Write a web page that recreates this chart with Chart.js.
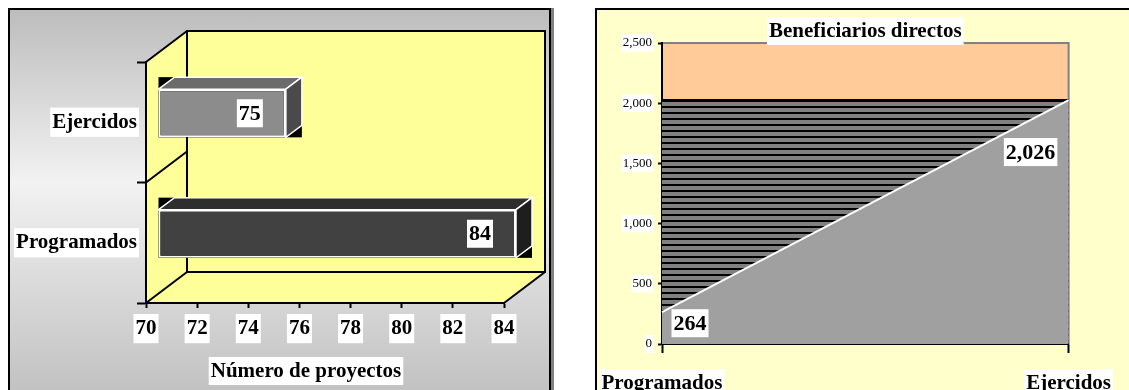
<!DOCTYPE html>
<html>
<head>
<meta charset="utf-8">
<script src="https://cdn.jsdelivr.net/npm/chart.js@4"></script>
<style>
html, body { margin: 0; padding: 0; width: 1129px; height: 390px; overflow: hidden; background: #fff; }
#frameLeft { position: absolute; left: 8px; top: 8px; width: 539px; height: 400px; border: 2px solid #000; border-bottom: none;
  background: linear-gradient(to bottom, #bdbdbd 0%, #f2f2f2 43%, #bdbdbd 100%); box-shadow: 3px 0 0 #808080; }
#frameRight { position: absolute; left: 595px; top: 8px; width: 560px; height: 400px; border: 2px solid #000; background: #ffffcc; }
#left { position: absolute; left: 0; top: 0; }
#right { position: absolute; left: 560px; top: 0; }
</style>
</head>
<body>
<div id="frameLeft"></div>
<div id="frameRight"></div>
<canvas id="left" width="560" height="390"></canvas>
<canvas id="right" width="569" height="390"></canvas>
<script>
// datos
const projCategories = ['Programados', 'Ejercidos'];
const projValues = [84, 75];
const projTicks = [70, 72, 74, 76, 78, 80, 82, 84];

const benCategories = ['Programados', 'Ejercidos'];
const benValues = [264, 2026];
const benTicks = [0, 500, 1000, 1500, 2000, 2500];

// estilos
const SERIF = "'Times New Roman', 'Liberation Serif', serif";
const frontColors = ['#414141', '#8c8c8c'];
const topColors = ['#2e2e2e', '#6b6b6b'];
const sideColors = ['#1e1e1e', '#4a4a4a'];
const DEPTH = { x: 41, y: -31 };      // fondo de la caja 3D
const BAR_SHIFT = { x: 12, y: -9 };   // barras a 30% de la profundidad
const BAR_DEPTH = { x: 16, y: -12 };

function labelBox(ctx, text, cx, cy, font) {
    ctx.font = font;
    const w = ctx.measureText(text).width;
    ctx.fillStyle = '#fff';
    ctx.fillRect(cx - w / 2 - 2, cy - 14, w + 4, 28);
    ctx.fillStyle = '#000';
    ctx.textAlign = 'center';
    ctx.textBaseline = 'middle';
    ctx.fillText(text, cx, cy + 1);
}

const box3d = {
    id: 'box3d',
    beforeDraw(chart) {
        const { ctx, chartArea: a, scales: { y } } = chart;
        const dx = DEPTH.x, dy = DEPTH.y;
        ctx.save();
        ctx.fillStyle = '#ffff99';
        ctx.beginPath();
        ctx.moveTo(a.left, a.top); ctx.lineTo(a.left + dx, a.top + dy);
        ctx.lineTo(a.left + dx, a.bottom + dy); ctx.lineTo(a.left, a.bottom);
        ctx.closePath(); ctx.fill();
        ctx.beginPath();
        ctx.moveTo(a.left, a.bottom); ctx.lineTo(a.right, a.bottom);
        ctx.lineTo(a.right + dx, a.bottom + dy); ctx.lineTo(a.left + dx, a.bottom + dy);
        ctx.closePath(); ctx.fill();
        ctx.fillRect(a.left + dx, a.top + dy, a.width, a.height);
        ctx.strokeStyle = '#000';
        ctx.lineWidth = 2;
        ctx.strokeRect(a.left + dx, a.top + dy, a.width, a.height);
        const mid = (y.getPixelForValue(0) + y.getPixelForValue(1)) / 2;
        ctx.beginPath();
        [a.top, mid, a.bottom].forEach(py => { ctx.moveTo(a.left, py); ctx.lineTo(a.left + dx, py + dy); });
        ctx.moveTo(a.right, a.bottom); ctx.lineTo(a.right + dx, a.bottom + dy);
        ctx.stroke();
        ctx.restore();
    },
    beforeDatasetsDraw(chart) {
        const ctx = chart.ctx;
        const bx = BAR_DEPTH.x, by = BAR_DEPTH.y;
        ctx.save();
        ctx.translate(BAR_SHIFT.x, BAR_SHIFT.y);
        chart.getDatasetMeta(0).data.forEach((bar, i) => {
            const { x, y, base, height } = bar.getProps(['x', 'y', 'base', 'height'], true);
            const t = y - height / 2, b = y + height / 2;
            ctx.fillStyle = '#000';
            ctx.fillRect(base, t + by, x - base + bx, b - t - by);
            ctx.strokeStyle = '#fff';
            ctx.lineWidth = 1.5;
            ctx.fillStyle = topColors[i];
            ctx.beginPath();
            ctx.moveTo(base, t); ctx.lineTo(base + bx, t + by); ctx.lineTo(x + bx, t + by); ctx.lineTo(x, t);
            ctx.closePath(); ctx.fill(); ctx.stroke();
            ctx.fillStyle = sideColors[i];
            ctx.beginPath();
            ctx.moveTo(x, t); ctx.lineTo(x + bx, t + by); ctx.lineTo(x + bx, b + by); ctx.lineTo(x, b);
            ctx.closePath(); ctx.fill(); ctx.stroke();
        });
    },
    afterDatasetsDraw(chart) {
        const ctx = chart.ctx;
        chart.getDatasetMeta(0).data.forEach((bar, i) => {
            labelBox(ctx, String(projValues[i]), bar.x - 36, bar.y, 'bold 22px ' + SERIF);
        });
        ctx.restore();
    },
    afterDraw(chart) {
        labelBox(chart.ctx, 'Número de proyectos', 306, 371, 'bold 21px ' + SERIF);
    }
};

new Chart(document.getElementById('left'), {
    type: 'bar',
    data: {
        labels: projCategories,
        datasets: [{
            data: projValues,
            base: projTicks[0],
            backgroundColor: frontColors,
            borderColor: '#fff',
            borderWidth: 2,
            borderSkipped: false,
            categoryPercentage: 1,
            barPercentage: 0.4
        }]
    },
    options: {
        indexAxis: 'y',
        responsive: false,
        animation: false,
        events: [],
        layout: { padding: { top: 62, right: 56, bottom: 0, left: 0 } },
        plugins: { legend: { display: false }, tooltip: { enabled: false } },
        scales: {
            x: {
                type: 'linear',
                min: projTicks[0],
                max: projTicks[projTicks.length - 1],
                ticks: {
                    stepSize: projTicks[1] - projTicks[0],
                    color: '#000',
                    font: { family: SERIF, size: 21, weight: 'bold' },
                    padding: 8,
                    showLabelBackdrop: true,
                    backdropColor: '#fff',
                    backdropPadding: 2
                },
                grid: { drawOnChartArea: false, tickLength: 5, tickColor: '#000', tickWidth: 2 },
                border: { color: '#000', width: 2 },
                afterFit(scale) { scale.height = 87; }
            },
            y: {
                type: 'category',
                reverse: true,
                offset: true,
                ticks: {
                    color: '#000',
                    font: { family: SERIF, size: 21, weight: 'bold' },
                    padding: 0,
                    showLabelBackdrop: true,
                    backdropColor: '#fff',
                    backdropPadding: 2
                },
                grid: { offset: true, drawOnChartArea: false, tickLength: 9, tickColor: '#000', tickWidth: 2 },
                border: { color: '#000', width: 2 },
                afterFit(scale) { scale.width = 146; }
            }
        }
    },
    plugins: [box3d]
});

// rayado del área superior
function stripes() {
    const c = document.createElement('canvas');
    c.width = 8; c.height = 6;
    const g = c.getContext('2d');
    g.fillStyle = '#808080'; g.fillRect(0, 0, 8, 6);
    g.fillStyle = '#000'; g.fillRect(0, 4, 8, 2);
    return g.createPattern(c, 'repeat');
}

const plotBg = {
    id: 'plotBg',
    beforeDraw(chart) {
        const { ctx, chartArea: a } = chart;
        ctx.save();
        ctx.fillStyle = '#ffcc99';
        ctx.fillRect(a.left, a.top, a.width, a.height);
        ctx.strokeStyle = '#808080';
        ctx.lineWidth = 2;
        ctx.strokeRect(a.left, a.top, a.width, a.height);
        ctx.restore();
    },
    afterDraw(chart) {
        const { ctx, chartArea: a } = chart;
        const pts = chart.getDatasetMeta(0).data;
        const font = 'bold 22px ' + SERIF;
        const fmt = v => v.toLocaleString('en-US');
        labelBox(ctx, fmt(benValues[0]), pts[0].x + 28, pts[0].y + 11, font);
        labelBox(ctx, fmt(benValues[1]), pts[1].x - 38, pts[1].y + 52, font);
        labelBox(ctx, 'Beneficiarios directos', (a.left + a.right) / 2, 31, 'bold 21px ' + SERIF);
    }
};

const benMax = Math.max(...benValues);

new Chart(document.getElementById('right'), {
    type: 'line',
    data: {
        labels: benCategories,
        datasets: [{
            data: benValues,
            fill: 'origin',
            backgroundColor: '#a0a0a0',
            borderColor: '#fff',
            borderWidth: 2,
            pointRadius: 0,
            tension: 0
        }, {
            data: benValues.map(() => benMax),
            fill: 'origin',
            backgroundColor: stripes(),
            borderColor: '#000',
            borderWidth: 2,
            pointRadius: 0,
            tension: 0
        }]
    },
    options: {
        responsive: false,
        animation: false,
        events: [],
        layout: { padding: { top: 43, right: 59, bottom: 0, left: 0 } },
        plugins: { legend: { display: false }, tooltip: { enabled: false } },
        scales: {
            x: {
                type: 'category',
                offset: false,
                z: 1,
                ticks: {
                    color: '#000',
                    font: { family: SERIF, size: 21, weight: 'bold' },
                    padding: 18,
                    maxRotation: 0,
                    autoSkip: false,
                    showLabelBackdrop: true,
                    backdropColor: '#fff',
                    backdropPadding: 2
                },
                grid: { drawOnChartArea: false, tickLength: 9, tickColor: '#000', tickWidth: 2 },
                border: { color: '#000', width: 2 },
                afterFit(scale) { scale.height = 46; }
            },
            y: {
                min: benTicks[0],
                max: benTicks[benTicks.length - 1],
                z: 1,
                ticks: {
                    stepSize: benTicks[1] - benTicks[0],
                    color: '#000',
                    font: { family: SERIF, size: 13 },
                    padding: 6,
                    showLabelBackdrop: true,
                    backdropColor: '#fff',
                    backdropPadding: 1,
                    callback: v => v.toLocaleString('en-US')
                },
                grid: { drawOnChartArea: false, tickLength: 4, tickColor: '#000', tickWidth: 2 },
                border: { color: '#000', width: 2 },
                afterFit(scale) { scale.width = 102; }
            }
        }
    },
    plugins: [plotBg]
});
</script>
</body>
</html>
